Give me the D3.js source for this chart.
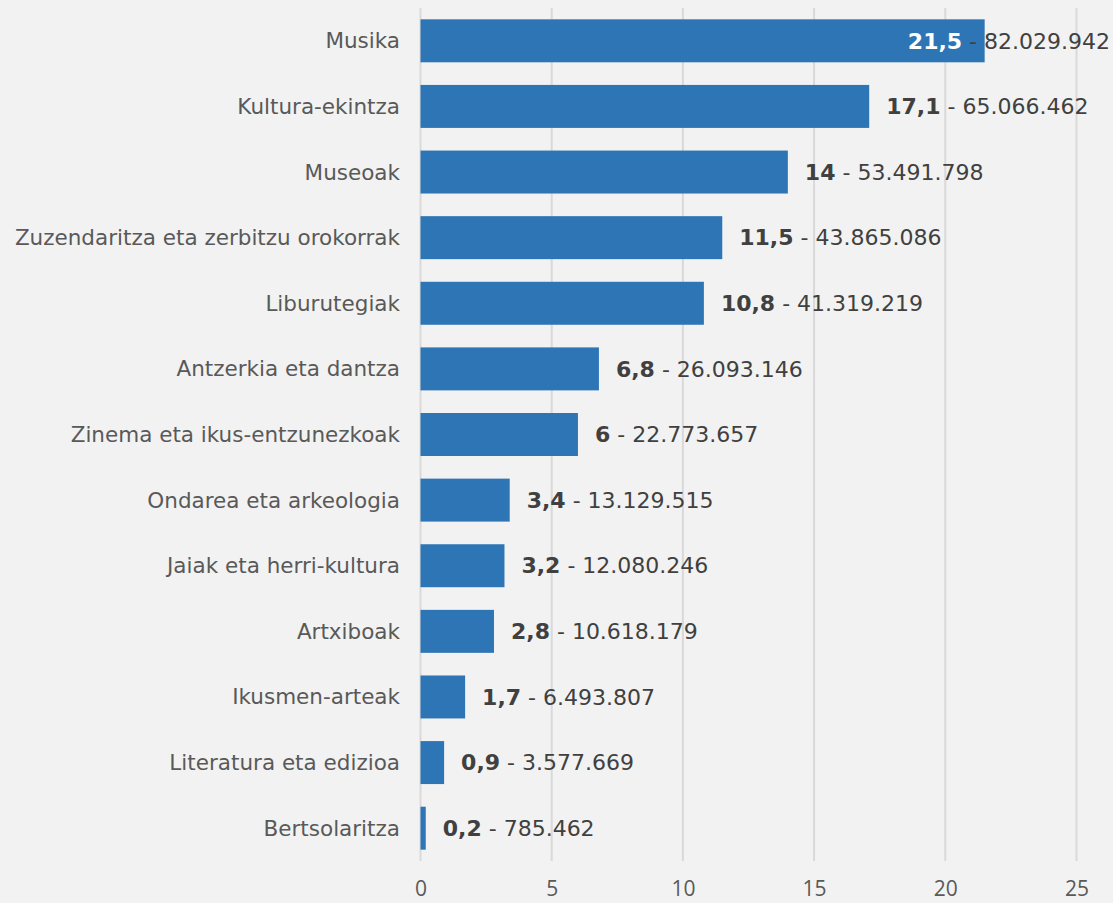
<!DOCTYPE html>
<html>
<head>
<meta charset="UTF-8">
<title>Kultura gastua</title>
<script src="https://cdn.jsdelivr.net/npm/d3@7"></script>
<style>
  body { margin: 0; background: #f2f2f2; }
  svg { display: block; }
</style>
</head>
<body>
<script>
// datuak
var categories = ["Musika", "Kultura-ekintza", "Museoak", "Zuzendaritza eta zerbitzu orokorrak",
  "Liburutegiak", "Antzerkia eta dantza", "Zinema eta ikus-entzunezkoak", "Ondarea eta arkeologia",
  "Jaiak eta herri-kultura", "Artxiboak", "Ikusmen-arteak", "Literatura eta edizioa", "Bertsolaritza"];
var percents = [21.5, 17.1, 14, 11.5, 10.8, 6.8, 6, 3.4, 3.2, 2.8, 1.7, 0.9, 0.2];
var amounts = [82029942, 65066462, 53491798, 43865086, 41319219, 26093146, 22773657,
  13129515, 12080246, 10618179, 6493807, 3577669, 785462];
var ticks = [0, 5, 10, 15, 20, 25];

var width = 1113, height = 903;
var rightEdge = 1110;

var loc = d3.formatLocale({decimal: ",", thousands: ".", grouping: [3], currency: ["", ""]});
var fmtAmount = loc.format(",d");
var fmtPct = function (v) { return String(v).replace(".", ","); };

var svg = d3.select("body").append("svg")
  .attr("width", width)
  .attr("height", height);

svg.append("rect").attr("width", width).attr("height", height).attr("fill", "#f2f2f2");

var x = d3.scaleLinear().domain([0, 25]).range([420.5, 1076.5]);
var y = d3.scaleBand().domain(categories).range([8, 861]).paddingInner(0.345).paddingOuter(0.1725);

// sareta
svg.append("g").selectAll("line")
  .data(ticks)
  .join("line")
  .attr("x1", function (d) { return x(d); })
  .attr("x2", function (d) { return x(d); })
  .attr("y1", 8)
  .attr("y2", 861)
  .attr("stroke", "#d9d9d9")
  .attr("stroke-width", 2);

// x ardatza
var xAxis = svg.append("g")
  .attr("transform", "translate(0,861)")
  .call(d3.axisBottom(x).tickValues(ticks).tickSize(0).tickPadding(20));
xAxis.select(".domain").remove();
xAxis.selectAll("text")
  .attr("font-family", "'Open Sans', sans-serif")
  .attr("font-size", 21)
  .attr("fill", "#595959");

// barrak
svg.append("g").selectAll("rect")
  .data(categories)
  .join("rect")
  .attr("x", x(0))
  .attr("y", function (d) { return y(d); })
  .attr("width", function (d, i) { return x(percents[i]) - x(0); })
  .attr("height", y.bandwidth())
  .attr("fill", "#2e75b6");

// kategoria etiketak
svg.append("g").selectAll("text")
  .data(categories)
  .join("text")
  .attr("x", 400)
  .attr("y", function (d) { return y(d) + y.bandwidth() / 2; })
  .attr("dy", "0.35em")
  .attr("text-anchor", "end")
  .attr("font-family", "'DejaVu Sans', Verdana, sans-serif")
  .attr("font-size", 21.5)
  .attr("fill", "#595959")
  .text(function (d) { return d; });

// balio etiketak
var labels = svg.append("g").selectAll("text")
  .data(categories)
  .join("text")
  .attr("x", function (d, i) { return x(percents[i]) + 17; })
  .attr("y", function (d) { return y(d) + y.bandwidth() / 2; })
  .attr("dy", "0.35em")
  .attr("font-family", "'DejaVu Sans', Verdana, sans-serif")
  .attr("font-size", 22)
  .attr("fill", "#404040");

labels.append("tspan")
  .attr("class", "pct")
  .attr("font-weight", "bold")
  .text(function (d, i) { return fmtPct(percents[i]); });
labels.append("tspan")
  .text(function (d, i) { return " - " + fmtAmount(amounts[i]); });

// ertzetik irteten diren etiketak ezkerrera eraman
labels.each(function (d, i) {
  var w = this.getComputedTextLength();
  var x0 = +this.getAttribute("x");
  if (x0 + w > rightEdge) {
    this.setAttribute("x", rightEdge - w);
    d3.select(this).select(".pct").attr("fill", "#ffffff");
  }
});
</script>
</body>
</html>
